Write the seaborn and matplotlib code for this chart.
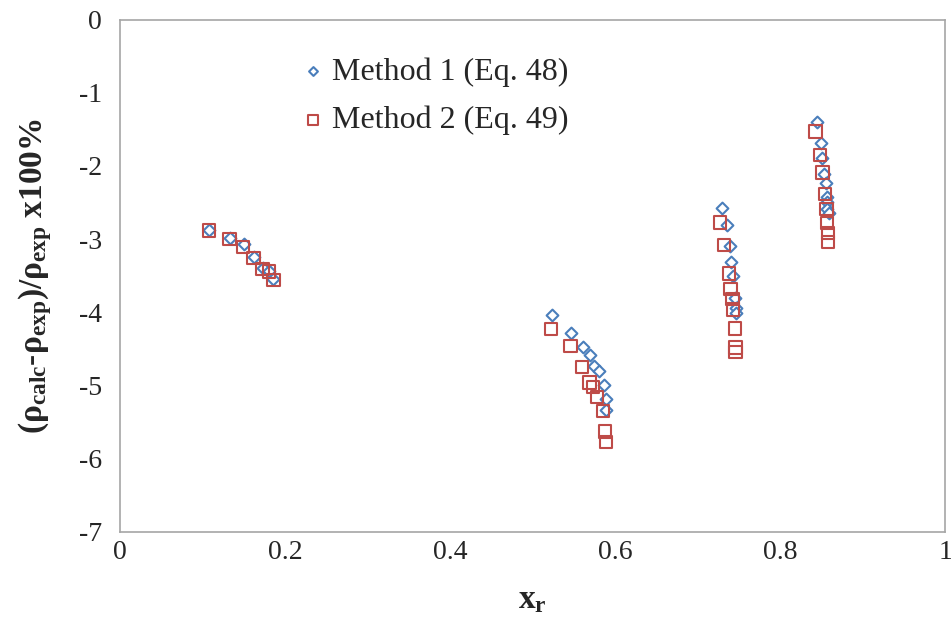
import matplotlib

matplotlib.use("Agg")
import matplotlib.pyplot as plt
import seaborn as sns
import pandas as pd

# Method 1 (Eq. 48) - diamonds
m1_x = [0.108, 0.133, 0.150, 0.162, 0.173, 0.181, 0.186,
        0.523, 0.546, 0.561, 0.570, 0.575, 0.580, 0.586, 0.589, 0.589,
        0.729, 0.735, 0.739, 0.740, 0.743, 0.745, 0.747, 0.746,
        0.844, 0.849, 0.851, 0.853, 0.855, 0.857, 0.857, 0.857, 0.859]
m1_y = [-2.87, -2.99, -3.07, -3.25, -3.40, -3.43, -3.55,
        -4.04, -4.28, -4.47, -4.59, -4.73, -4.80, -5.00, -5.18, -5.34,
        -2.58, -2.80, -3.10, -3.31, -3.51, -3.81, -3.94, -4.01,
        -1.40, -1.68, -1.89, -2.11, -2.23, -2.42, -2.49, -2.59, -2.64]

# Method 2 (Eq. 49) - squares
m2_x = [0.108, 0.133, 0.149, 0.162, 0.173, 0.181, 0.186,
        0.522, 0.546, 0.560, 0.569, 0.573, 0.578, 0.585, 0.588, 0.589,
        0.727, 0.732, 0.738, 0.740, 0.742, 0.743, 0.745, 0.746, 0.746,
        0.843, 0.848, 0.851, 0.854, 0.856, 0.857, 0.858, 0.858]
m2_y = [-2.88, -3.00, -3.11, -3.26, -3.41, -3.44, -3.56,
        -4.23, -4.46, -4.75, -4.96, -5.02, -5.16, -5.35, -5.63, -5.77,
        -2.77, -3.08, -3.47, -3.68, -3.82, -3.96, -4.22, -4.48, -4.54,
        -1.53, -1.85, -2.09, -2.38, -2.59, -2.78, -2.92, -3.04]

labels = ["Method 1 (Eq. 48)", "Method 2 (Eq. 49)"]

sns.set_style("white")
plt.rcParams["font.family"] = ["Liberation Serif", "DejaVu Serif"]
plt.rcParams["mathtext.fontset"] = "custom"
plt.rcParams["mathtext.rm"] = "Liberation Serif"
plt.rcParams["mathtext.it"] = "Liberation Serif:italic"
plt.rcParams["mathtext.bf"] = "Liberation Serif:bold"

blue = "#4A7EBB"
red = "#BE4B48"
frame = "#A6A6A6"

fig, ax = plt.subplots(figsize=(9.51, 6.36), dpi=100)
fig.subplots_adjust(left=0.126, right=0.994, top=0.969, bottom=0.164)

sns.scatterplot(x=m1_x, y=m1_y, ax=ax, marker="D", s=36, facecolor="white",
                edgecolor=blue, linewidth=1.5, label=labels[0], zorder=3)
sns.scatterplot(x=m2_x, y=m2_y, ax=ax, marker="s", s=80, facecolor="none",
                edgecolor=red, linewidth=1.5, label=labels[1], zorder=4)

ax.set_xlim(0, 1)
ax.set_ylim(-7, 0)
ax.set_xticks([0, 0.2, 0.4, 0.6, 0.8, 1])
ax.set_xticklabels(["0", "0.2", "0.4", "0.6", "0.8", "1"])
ax.set_yticks(range(-7, 1))
ax.set_yticklabels([str(v) for v in range(-7, 1)])

for sp in ax.spines.values():
    sp.set_visible(True)
    sp.set_color(frame)
    sp.set_linewidth(1.2)
ax.tick_params(axis="both", direction="in", length=8, width=1, color=frame,
               labelsize=20)
ax.tick_params(axis="y", pad=13)
ax.tick_params(axis="x", pad=6)

ax.set_xlabel(r"$\mathbf{x_r}$", fontsize=24, labelpad=14)
ax.set_ylabel(r"$\mathbf{(ρ_{calc}}$-$\mathbf{ρ_{exp})/ρ_{exp}}$ x100%",
              fontsize=24, fontweight="bold", labelpad=18)

ax.legend(loc="upper left", bbox_to_anchor=(0.203, 0.952), frameon=False,
          fontsize=23, markerscale=0.75, handlelength=0.8, handletextpad=0.2,
          labelspacing=0.6, borderaxespad=0)

fig.savefig("out.png", dpi=100)
